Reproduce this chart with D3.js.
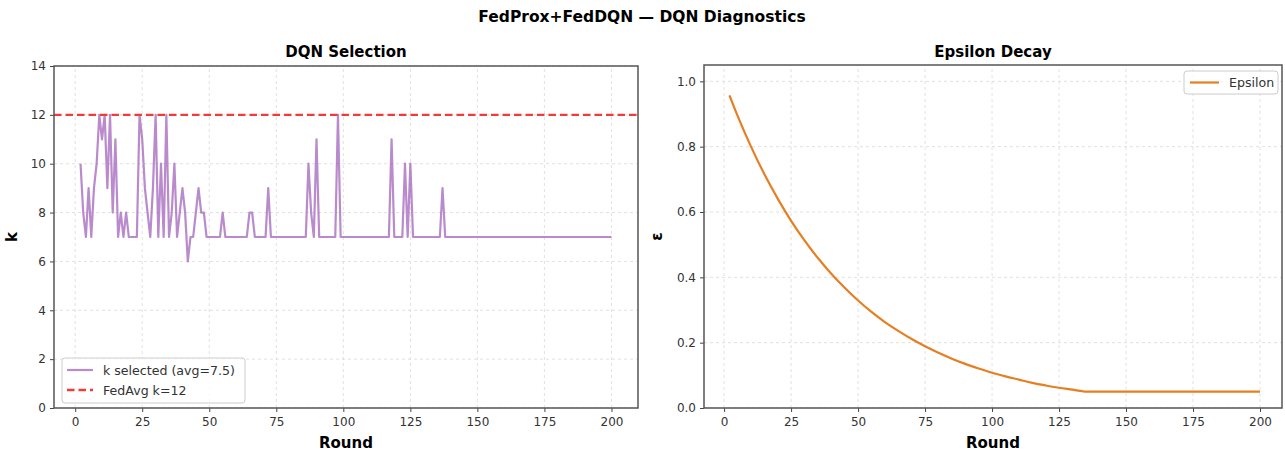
<!DOCTYPE html>
<html>
<head>
<meta charset="utf-8">
<script src="https://cdn.jsdelivr.net/npm/d3@7"></script>
<style>
  body { margin: 0; background: #fff; }
  svg text { font-family: "DejaVu Sans", sans-serif; }
  .tick text { fill: #333; font-size: 12px; }
  .tick line { stroke: #444; }
</style>
</head>
<body>
<svg width="1285" height="453"></svg>
<script>
// k chosen by the DQN, one value per round, rounds 2..200
var kValues = [
  10, 8, 7, 9, 7, 9, 10, 12, 11, 12,   // 2-11
  9, 12, 8, 11, 7, 8, 7, 8, 7, 7,      // 12-21
  7, 7, 12, 11, 9, 8, 7, 9, 12, 7,     // 22-31
  10, 7, 12, 7, 8, 10, 7, 8, 9, 8,     // 32-41
  6, 7, 7, 8, 9, 8, 8, 7, 7, 7,        // 42-51
  7, 7, 7, 8, 7, 7, 7, 7, 7, 7,        // 52-61
  7, 7, 7, 8, 8, 7, 7, 7, 7, 7,        // 62-71
  9, 7, 7, 7, 7, 7, 7, 7, 7, 7,        // 72-81
  7, 7, 7, 7, 7, 10, 8, 7, 11, 7,      // 82-91
  7, 7, 7, 7, 7, 7, 12, 7, 7, 7,       // 92-101
  7, 7, 7, 7, 7, 7, 7, 7, 7, 7,        // 102-111
  7, 7, 7, 7, 7, 7, 11, 7, 7, 7,       // 112-121
  7, 10, 7, 10, 7, 7, 7, 7, 7, 7,      // 122-131
  7, 7, 7, 7, 7, 9, 7, 7, 7, 7,        // 132-141
  7, 7, 7, 7, 7, 7, 7, 7, 7, 7,        // 142-151
  7, 7, 7, 7, 7, 7, 7, 7, 7, 7,        // 152-161
  7, 7, 7, 7, 7, 7, 7, 7, 7, 7,        // 162-171
  7, 7, 7, 7, 7, 7, 7, 7, 7, 7,        // 172-181
  7, 7, 7, 7, 7, 7, 7, 7, 7, 7,        // 182-191
  7, 7, 7, 7, 7, 7, 7, 7, 7            // 192-200
];
var firstRound = 2;
var fedAvgK = 12;

// epsilon
var epsRounds = [2, 5, 10, 15, 20, 25, 30, 35, 40, 45, 50, 55, 60, 65, 70, 75, 80, 85, 90, 95,
  100, 105, 110, 115, 120, 125, 130, 134, 135, 140, 150, 160, 170, 180, 190, 200];
var epsValues = [0.957, 0.895, 0.801, 0.716, 0.641, 0.573, 0.513, 0.459, 0.411, 0.368, 0.329,
  0.294, 0.263, 0.236, 0.211, 0.189, 0.169, 0.151, 0.135, 0.121, 0.108, 0.097, 0.087, 0.077,
  0.069, 0.062, 0.056, 0.051, 0.05, 0.05, 0.05, 0.05, 0.05, 0.05, 0.05, 0.05];

var roundTicks = [0, 25, 50, 75, 100, 125, 150, 175, 200];
var kTicks = [0, 2, 4, 6, 8, 10, 12, 14];
var epsTicks = [0, 0.2, 0.4, 0.6, 0.8, 1.0];

var kData = kValues.map(function (v, i) { return { r: firstRound + i, v: v }; });
var epsData = epsRounds.map(function (r, i) { return { r: r, v: epsValues[i] }; });
var kAvg = d3.mean(kValues);

var svg = d3.select("svg");

svg.append("text")
  .attr("x", 642).attr("y", 22)
  .attr("text-anchor", "middle")
  .attr("font-weight", "bold")
  .attr("font-size", 15.5)
  .text("FedProx+FedDQN \u2014 DQN Diagnostics");

function panel(x, y, yTicks, yFmt, title, yLabel, yLabelX) {
  var g = svg.append("g");
  var x0 = x.range()[0], x1 = x.range()[1];
  var y0 = y.range()[0], y1 = y.range()[1];

  // grid
  g.selectAll(".gx").data(roundTicks).enter().append("line")
    .attr("x1", function (d) { return x(d); }).attr("x2", function (d) { return x(d); })
    .attr("y1", y0).attr("y2", y1)
    .attr("stroke", "#d9d9d9").attr("stroke-width", 0.8).attr("stroke-dasharray", "3,3");
  g.selectAll(".gy").data(yTicks).enter().append("line")
    .attr("x1", x0).attr("x2", x1)
    .attr("y1", function (d) { return y(d); }).attr("y2", function (d) { return y(d); })
    .attr("stroke", "#d9d9d9").attr("stroke-width", 0.8).attr("stroke-dasharray", "3,3");

  g.append("g")
    .attr("transform", "translate(0," + y0 + ")")
    .call(d3.axisBottom(x).tickValues(roundTicks).tickSize(4).tickPadding(5))
    .call(function (a) { a.select(".domain").remove(); });
  g.append("g")
    .attr("transform", "translate(" + x0 + ",0)")
    .call(d3.axisLeft(y).tickValues(yTicks).tickFormat(yFmt).tickSize(4).tickPadding(4))
    .call(function (a) { a.select(".domain").remove(); });

  g.append("text")
    .attr("x", (x0 + x1) / 2).attr("y", 57)
    .attr("text-anchor", "middle").attr("font-weight", "bold").attr("font-size", 15)
    .text(title);
  g.append("text")
    .attr("x", (x0 + x1) / 2).attr("y", 448)
    .attr("text-anchor", "middle").attr("font-weight", "bold").attr("font-size", 15)
    .text("Round");
  g.append("text")
    .attr("transform", "translate(" + yLabelX + "," + (y0 + y1) / 2 + ") rotate(-90)")
    .attr("text-anchor", "middle").attr("font-weight", "bold").attr("font-size", 15)
    .text(yLabel);
  return g;
}

function border(g, x, y) {
  g.append("rect")
    .attr("x", x.range()[0]).attr("y", y.range()[1])
    .attr("width", x.range()[1] - x.range()[0])
    .attr("height", y.range()[0] - y.range()[1])
    .attr("fill", "none").attr("stroke", "#555").attr("stroke-width", 1.5);
}

// DQN Selection
var xL = d3.scaleLinear().domain([-7.9, 209.9]).range([54, 638]);
var yL = d3.scaleLinear().domain([0, 14]).range([408, 66]);
var gL = panel(xL, yL, kTicks, d3.format("d"), "DQN Selection", "k", 17);

var kLine = d3.line()
  .x(function (d) { return xL(d.r); })
  .y(function (d) { return yL(d.v); });

gL.append("path")
  .datum(kData)
  .attr("d", kLine)
  .attr("fill", "none")
  .attr("stroke", "#9b59b6")
  .attr("stroke-opacity", 0.7)
  .attr("stroke-width", 2.2)
  .attr("stroke-linejoin", "round");

gL.append("line")
  .attr("x1", xL.range()[0]).attr("x2", xL.range()[1])
  .attr("y1", yL(fedAvgK)).attr("y2", yL(fedAvgK))
  .attr("stroke", "#f03b3b").attr("stroke-width", 2.3)
  .attr("stroke-dasharray", "7.5,4");
border(gL, xL, yL);

var legL = gL.append("g").attr("transform", "translate(62,358)");
legL.append("rect").attr("width", 183).attr("height", 45).attr("rx", 3)
  .attr("fill", "#fff").attr("fill-opacity", 0.8).attr("stroke", "#ccc");
legL.append("line").attr("x1", 5).attr("x2", 31).attr("y1", 12).attr("y2", 12)
  .attr("stroke", "#9b59b6").attr("stroke-opacity", 0.7).attr("stroke-width", 2.2);
legL.append("text").attr("x", 41).attr("y", 16.5).attr("font-size", 12.6).attr("fill", "#333")
  .text("k selected (avg=" + kAvg.toFixed(1) + ")");
legL.append("line").attr("x1", 5).attr("x2", 31).attr("y1", 32).attr("y2", 32)
  .attr("stroke", "#f03b3b").attr("stroke-width", 2.3).attr("stroke-dasharray", "7.5,4");
legL.append("text").attr("x", 41).attr("y", 36.5).attr("font-size", 12.6).attr("fill", "#333")
  .text("FedAvg k=" + fedAvgK);

// Epsilon Decay
var xR = d3.scaleLinear().domain([-7.5, 208.2]).range([704, 1282]);
var yR = d3.scaleLinear().domain([0, 1.05]).range([408, 65]);
var gR = panel(xR, yR, epsTicks, d3.format(".1f"), "Epsilon Decay", "\u03b5", 662);

var epsLine = d3.line()
  .x(function (d) { return xR(d.r); })
  .y(function (d) { return yR(d.v); })
  .curve(d3.curveMonotoneX);

gR.append("path")
  .datum(epsData)
  .attr("d", epsLine)
  .attr("fill", "none")
  .attr("stroke", "#e67e22")
  .attr("stroke-width", 2.2);
border(gR, xR, yR);

var legR = gR.append("g").attr("transform", "translate(1184,71)");
legR.append("rect").attr("width", 94).attr("height", 23).attr("rx", 3)
  .attr("fill", "#fff").attr("fill-opacity", 0.8).attr("stroke", "#ccc");
legR.append("line").attr("x1", 6).attr("x2", 35).attr("y1", 11.5).attr("y2", 11.5)
  .attr("stroke", "#e67e22").attr("stroke-width", 2.2);
legR.append("text").attr("x", 45).attr("y", 16).attr("font-size", 12.6).attr("fill", "#333")
  .text("Epsilon");
</script>
</body>
</html>
